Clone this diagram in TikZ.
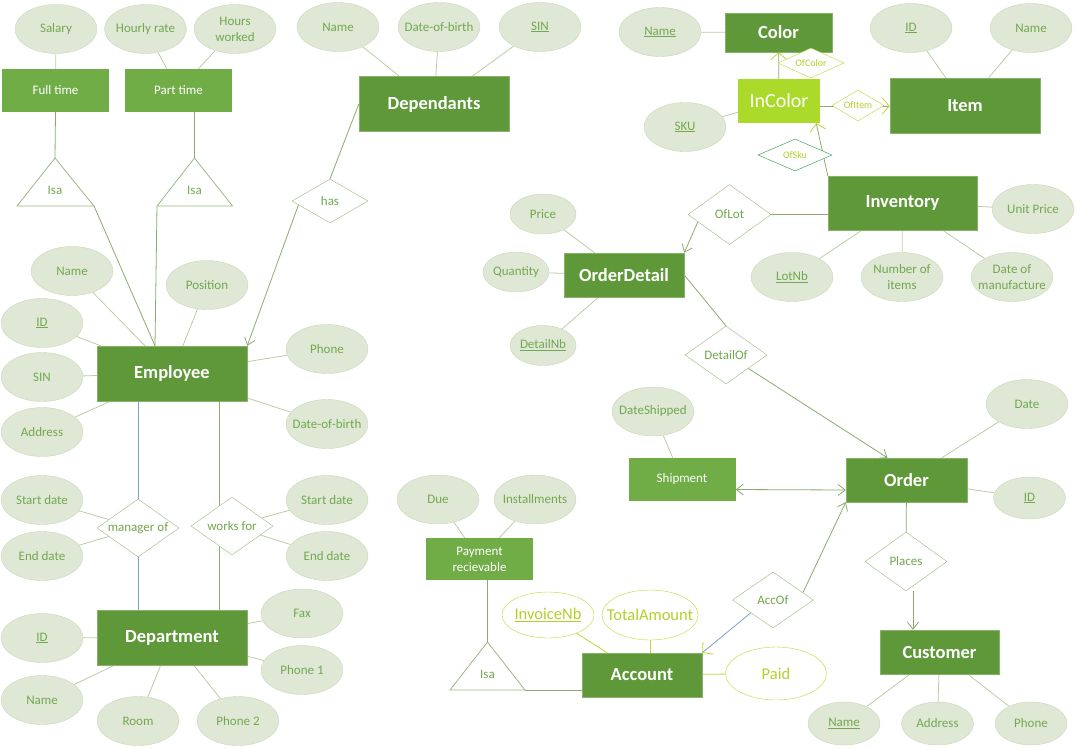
\documentclass[tikz,border=0pt]{standalone}
\usepackage{fontspec}
\setmainfont{Carlito}
\usetikzlibrary{shapes.geometric,arrows.meta,backgrounds}
\definecolor{entdark}{HTML}{5E9838}
\definecolor{entlight}{HTML}{70AD47}
\definecolor{inlime}{HTML}{ABDA2B}
\definecolor{attrfill}{HTML}{DEE8D5}
\definecolor{attrdraw}{HTML}{C8D7B9}
\definecolor{attrtext}{HTML}{72A84F}
\definecolor{attrline}{HTML}{B9CDA5}
\definecolor{relline}{HTML}{8CAA6E}
\definecolor{reldraw}{HTML}{9BB982}
\definecolor{blueline}{HTML}{7FA0C8}
\definecolor{limec}{HTML}{BED732}
\definecolor{limetext}{HTML}{B2D02A}
\definecolor{skudraw}{HTML}{28963C}

\begin{document}
\begin{tikzpicture}[x=1pt,y=-1pt,
  >={Straight Barb[length=7pt,width=11pt]},
  ent/.style={rectangle,fill=entdark,draw=entdark!75!white,text=white,inner sep=0pt,
    minimum width=150pt,minimum height=55pt,font=\fontsize{18.5}{20}\selectfont\bfseries},
  subent/.style={rectangle,fill=entlight,text=white,inner sep=0pt,align=center,
    minimum width=107pt,minimum height=43pt,font=\fontsize{13}{16}\selectfont},
  attr/.style={ellipse,fill=attrfill,draw=attrdraw,text=attrtext,align=center,
    inner xsep=-14pt,inner ysep=0pt,minimum width=82pt,minimum height=49pt,
    font=\fontsize{13}{16}\selectfont},
  sattr/.style={attr,minimum width=66pt,minimum height=40pt},
  cattr/.style={attr,minimum width=72pt,minimum height=43pt},
  lattr/.style={ellipse,fill=white,draw=limec,text=limetext,inner xsep=-14pt,inner ysep=0pt,
    font=\fontsize{16.5}{18}\selectfont},
  rel/.style={diamond,fill=white,draw=reldraw,text=attrtext,inner sep=0pt,aspect=1.4,
    minimum width=82pt,minimum height=58pt,font=\fontsize{13}{16}\selectfont},
  srel/.style={diamond,fill=white,draw=limec,text=limetext,inner sep=0pt,aspect=2,
    font=\fontsize{10}{12}\selectfont},
  isa/.style={draw=reldraw,fill=white,line width=0.8pt},
  isalabel/.style={text=attrtext,font=\fontsize{13}{16}\selectfont},
  aline/.style={draw=attrline,line width=0.8pt},
  rline/.style={draw=relline,line width=0.8pt},
  bline/.style={draw=blueline,line width=0.8pt},
  lline/.style={draw=limec,line width=0.8pt},
  limetip/.style={-{Straight Barb[length=7pt,width=16pt,color=limec]}}
]
\useasboundingbox (0,0) rectangle (1076,747);
% Full time / Part time
\node[attr] (sal) at (56,29) {Salary};
\node[attr] (hrate) at (145.5,29) {Hourly rate};
\node[attr] (hwork) at (235,29) {Hours\\worked};
\node[subent] (ft) at (55.5,90.5) {Full time};
\node[subent] (pt) at (178.5,90.5) {Part time};
\coordinate (isa1top) at (55,158);
\coordinate (isa1l) at (17,206);
\coordinate (isa1r) at (94,206);
\coordinate (isa2top) at (194.5,158);
\coordinate (isa2l) at (157,206);
\coordinate (isa2r) at (232.5,206);
\draw[isa] (isa1top) -- (isa1l) -- (isa1r) -- cycle;
\draw[isa] (isa2top) -- (isa2l) -- (isa2r) -- cycle;
\node[isalabel] (isa1) at (55,190) {Isa};
\node[isalabel] (isa2) at (194.5,190) {Isa};
% Dependants
\node[attr] (dname) at (338,27) {Name};
\node[attr] (ddob) at (439,27) {Date-of-birth};
\node[attr] (dsin) at (540,27) {\underline{SIN}};
\node[ent] (dep) at (434,104) {Dependants};
\node[rel,aspect=1.7,minimum width=76pt,minimum height=44pt] (has) at (330,201) {has};
% Employee
\node[attr] (ename) at (72,271) {Name};
\node[attr] (epos) at (207,285) {Position};
\node[attr] (eid) at (42,323) {\underline{ID}};
\node[attr] (esin) at (42,377) {SIN};
\node[attr] (eaddr) at (42,432) {Address};
\node[attr] (ephone) at (327,349) {Phone};
\node[attr] (edob) at (327,424) {Date-of-birth};
\node[ent] (emp) at (172,373.5) {Employee};
% manager of / works for
\node[attr] (msd) at (42,500) {Start date};
\node[attr] (med) at (42,556) {End date};
\node[rel] (mgr) at (138,528) {manager of};
\node[attr] (wsd) at (327,500) {Start date};
\node[attr] (wed) at (327,556) {End date};
\node[rel] (wf) at (232,526) {works for};
% Department
\node[ent] (dept) at (172,637.5) {Department};
\node[attr] (dtid) at (42,638) {\underline{ID}};
\node[attr] (dtname) at (42,700) {Name};
\node[attr] (droom) at (138,721) {Room};
\node[attr] (dph2) at (238,721) {Phone 2};
\node[attr] (dfax) at (302,613.5) {Fax};
\node[attr] (dph1) at (302,670) {Phone 1};
% Color / InColor / Item
\node[attr] (cname) at (660,32) {\underline{Name}};
\node[ent,minimum width=107pt,minimum height=39pt] (color) at (778.5,32.5) {Color};
\node[attr] (iid) at (911,28) {\underline{ID}};
\node[attr] (iname) at (1031,28) {Name};
\node[ent] (item) at (965,105.5) {Item};
\node[rectangle,fill=inlime,text=white,inner sep=0pt,minimum width=82pt,minimum height=44pt,
  font=\fontsize{20}{22}\selectfont] (ic) at (779,101) {InColor};
\node[attr] (sku) at (685,127) {\underline{SKU}};
\node[srel,minimum width=66pt,minimum height=30pt] (ofcolor) at (811,63) {OfColor};
\node[srel,minimum width=52pt,minimum height=31pt] (ofitem) at (858,105.5) {OfItem};
\node[srel,draw=skudraw,minimum width=74pt,minimum height=32pt] (ofsku) at (795,155) {OfSku};
% Inventory / OrderDetail
\node[ent,minimum width=149pt,minimum height=54pt] (inv) at (902.5,203) {Inventory};
\node[attr] (uprice) at (1033,209) {Unit Price};
\node[attr] (lotnb) at (792,277) {\underline{LotNb}};
\node[attr] (nitems) at (902,277) {Number of\\items};
\node[attr] (dman) at (1012,277) {Date of\\manufacture};
\node[rel,minimum width=83pt,minimum height=60pt] (oflot) at (729.5,214.5) {OfLot};
\node[ent,minimum width=120pt,minimum height=44pt] (od) at (624,275) {OrderDetail};
\node[sattr] (price) at (543,214) {Price};
\node[sattr] (qty) at (516,272) {Quantity};
\node[sattr] (dnb) at (543,345.5) {\underline{DetailNb}};
\node[rel] (detof) at (726,355) {DetailOf};
% Shipment / Order / Customer
\node[attr] (dship) at (653,411.5) {DateShipped};
\node[subent] (ship) at (682,479.5) {Shipment};
\node[ent,minimum width=121pt,minimum height=44pt] (ord) at (906.5,480) {Order};
\node[attr] (odate) at (1027,404) {Date};
\node[cattr,minimum height=42pt] (oid) at (1029.5,498) {\underline{ID}};
\node[rel,minimum height=59pt] (places) at (906,561.5) {Places};
\node[ent,minimum width=119pt,minimum height=44pt] (cust) at (939.5,652) {Customer};
\node[cattr] (cuname) at (844,723.5) {\underline{Name}};
\node[cattr] (cuaddr) at (937.5,723.5) {Address};
\node[cattr] (cuphone) at (1031,723.5) {Phone};
% Payment / Account
\node[attr] (due) at (438,499.5) {Due};
\node[attr] (inst) at (535,499.5) {Installments};
\node[subent,minimum height=42pt] (pay) at (479.5,559) {Payment\\recievable};
\coordinate (isa3top) at (487.5,642);
\coordinate (isa3l) at (450,690);
\coordinate (isa3r) at (525,690);
\draw[isa] (isa3top) -- (isa3l) -- (isa3r) -- cycle;
\node[isalabel] (isa3) at (487.5,674) {Isa};
\node[ent,minimum width=120pt,minimum height=44pt] (acc) at (642,675) {Account};
\node[lattr,minimum width=92pt,minimum height=46pt] (invnb) at (548,615) {\underline{InvoiceNb}};
\node[lattr,minimum width=96pt,minimum height=50pt] (tot) at (650,615) {TotalAmount};
\node[lattr,minimum width=101pt,minimum height=53pt] (paid) at (776,673.5) {Paid};
\node[rel,minimum width=81pt,minimum height=56pt] (accof) at (773,600) {AccOf};

\coordinate (icr) at ([yshift=-5pt]ic.east);
\coordinate (plb) at ([xshift=7pt]places.south);
\begin{scope}[on background layer]
% left side
\draw[aline] (sal) -- (ft);
\draw[aline] (hrate) -- (pt);
\draw[aline] (hwork) -- (pt);
\draw[rline] (ft.south) -- (isa1top);
\draw[rline] ([xshift=16pt]pt.south) -- (isa2top);
\draw[rline] (isa1r) -- ([xshift=-17pt]emp.north);
\draw[rline] (isa2l) -- ([xshift=-17pt]emp.north);
\draw[aline] (dname) -- (dep);
\draw[aline] (ddob) -- (dep);
\draw[aline] (dsin) -- (dep);
\draw[rline] (dep.west) -- (has.north);
\draw[rline,->] (has.187) -- (emp.north east);
\foreach \a in {ename,epos,eid,esin,eaddr,ephone,edob}
  \draw[aline] (\a) -- (emp);
\draw[bline] ([xshift=-34pt]emp.south) -- (mgr.north);
\draw[bline] (mgr.south) -- ([xshift=-34pt]dept.north);
\draw[rline] ([xshift=47pt]emp.south) -- ([xshift=47pt]dept.north);
\draw[aline] (msd) -- (mgr);
\draw[aline] (med) -- (mgr);
\draw[aline] (wsd) -- (wf);
\draw[aline] (wed) -- (wf);
\foreach \a in {dtid,dtname,droom,dph2,dfax,dph1}
  \draw[aline] (\a) -- (dept);
% right side
\draw[aline] (cname) -- (color);
\draw[rline,limetip] (ic) -- (color);
\draw[aline] (iid) -- (item);
\draw[aline] (iname) -- (item);
\draw[aline] (sku) -- (ic);
\draw[rline,limetip] (icr) -- (icr -| item.west);
\draw[rline,limetip] (inv.north west) -- ([xshift=-4pt]ic.south east);
\draw[aline] (inv) -- (uprice);
\draw[rline] (oflot.east) -- (oflot.east -| inv.west);
\draw[rline,->] (oflot.193) -- (od.north east);
\foreach \a in {price,qty,dnb}
  \draw[aline] (\a) -- (od);
\foreach \a in {lotnb,nitems,dman}
  \draw[aline] (\a) -- (inv);
\draw[rline] (od.east) -- (detof.north);
\draw[rline,->] (detof.329) -- ([xshift=-19pt]ord.north);
\draw[aline] (dship) -- (ship);
\draw[rline,<->] ([yshift=-10pt]ship.east) -- ([yshift=-10pt]ord.west);
\draw[aline] (odate) -- (ord);
\draw[aline] (oid) -- (ord);
\draw[rline] (ord) -- (places);
\draw[rline,->] (plb) -- (plb |- cust.north);
\foreach \a in {cuname,cuaddr,cuphone}
  \draw[aline] (\a) -- (cust);
\draw[aline] (due) -- (pay);
\draw[aline] (inst) -- (pay);
\draw[rline] ([xshift=8pt]pay.south) -- (isa3top);
\draw[rline] (isa3r) -- (isa3r -| acc.west);
\draw[lline] (invnb) -- (acc);
\draw[lline] (tot.south) -- (tot.south |- acc.north);
\draw[lline] (paid) -- (acc);
\draw[bline,limetip] (accof.210) -- (acc.north east);
\draw[rline,->] (accof.14) -- (ord.south west);
\end{scope}
\end{tikzpicture}
\end{document}
